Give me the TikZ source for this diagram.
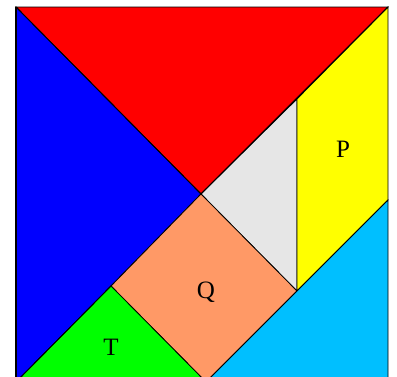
\documentclass[tikz,border=0pt]{standalone}
\usepackage{fontspec}
\setmainfont{Liberation Serif}
\begin{document}
\begin{tikzpicture}[x=1pt,y=-1pt,
  piece/.style={draw=black,line width=0.8pt,line join=miter},
  lbl/.style={font=\fontsize{25}{25}\selectfont,inner sep=0pt}]
\definecolor{qorange}{RGB}{255,153,102}
\definecolor{tgray}{RGB}{230,230,230}
\definecolor{tcyan}{RGB}{0,191,255}
\definecolor{tyellow}{RGB}{255,255,0}
\useasboundingbox (0,0) rectangle (397,376);
\clip (0,0) rectangle (397,376);
\coordinate (A) at (16,7);
\coordinate (B) at (388,7);
\coordinate (C) at (201,194);
\coordinate (D) at (297,99);
\coordinate (E) at (297,291);
\coordinate (F) at (111,286);
\coordinate (G) at (206,382);
\coordinate (H) at (16,382);
\coordinate (I) at (388,200);
\coordinate (J) at (388,382);
\fill[piece,fill=red] (A) -- (B) -- (C) -- cycle;
\fill[piece,fill=blue] (A) -- (C) -- (F) -- (H) -- cycle;
\fill[piece,fill=tgray] (C) -- (D) -- (E) -- cycle;
\fill[piece,fill=tyellow] (D) -- (B) -- (I) -- (E) -- cycle;
\fill[piece,fill=qorange] (C) -- (E) -- (G) -- (F) -- cycle;
\fill[piece,fill=green] (H) -- (F) -- (G) -- cycle;
\fill[piece,fill=tcyan] (E) -- (I) -- (J) -- (G) -- cycle;
\draw[piece] (A) -- (C) (F) -- (H) (B) -- (C);
\draw[black,line width=1.6pt] (A) -- (H);
\node[lbl] (p) at (343,149) {P};
\node[lbl] (q) at (206,292) {Q};
\node[lbl] (t) at (111,347) {T};
\end{tikzpicture}
\end{document}
